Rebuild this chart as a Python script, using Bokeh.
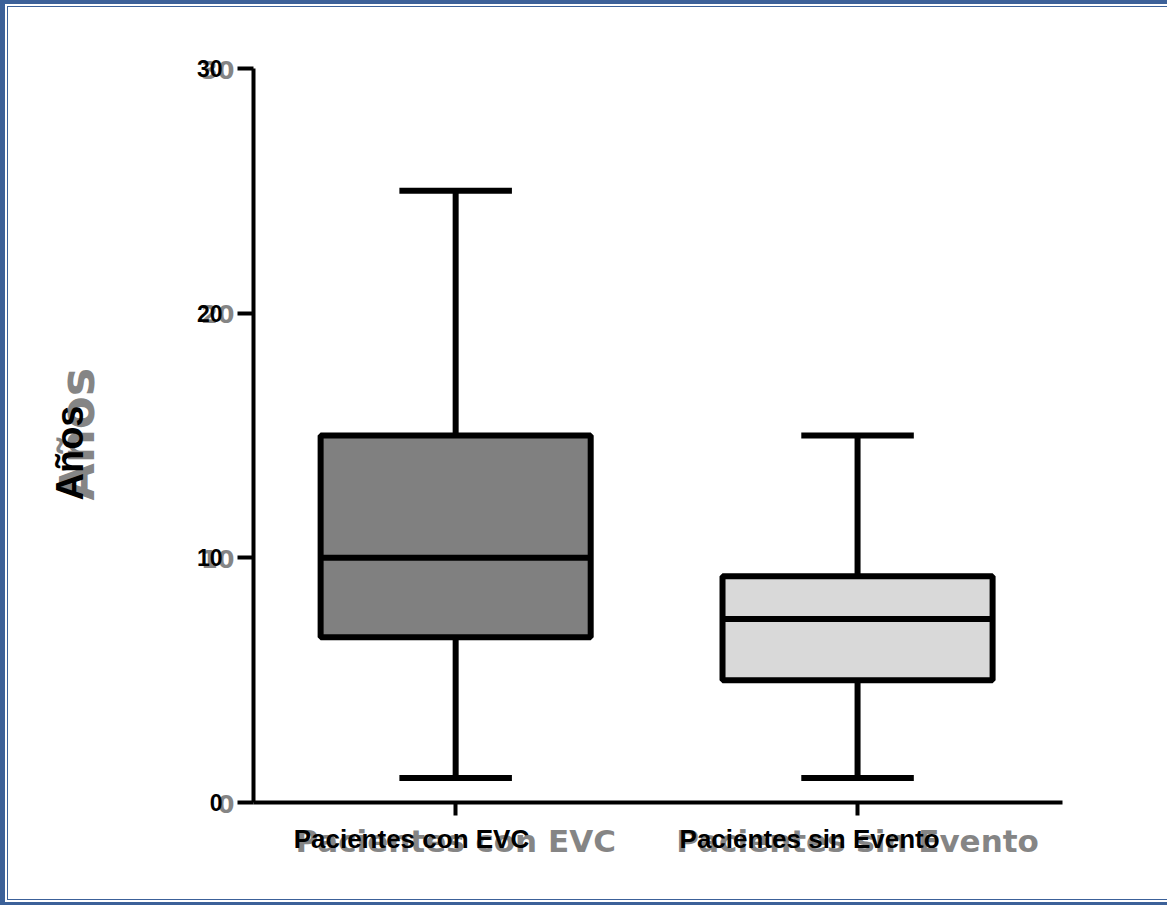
import math
from bokeh.plotting import figure
from bokeh.models import Range1d, FixedTicker, Label
from bokeh.embed import file_html
from bokeh.resources import INLINE

# ---- data ----
categories = ["Pacientes con EVC", "Pacientes sin Evento"]
whisker_low = [1, 1]
q1 = [6.75, 5]
median = [10, 7.5]
q3 = [15, 9.25]
whisker_high = [25, 15]
box_colors = ["#808080", "#D9D9D9"]
y_ticks = [0, 10, 20, 30]
y_label = "Años"

# ---- layout / style ----
x = [1, 2]
box_w = 0.672
cap_w = 0.28
label_dx = [-162, -178]
blue = "#3C6199"
grey_txt = "#858585"

W, H = 1167, 905
x_axis_span = (0.497, 2.51)      # data extent of the x axis line
y_axis_span = (0, 30)
px_x = 401.9                     # px per x unit
px_y = 24.467                    # px per y unit
left_px, top_px = 253, 68        # where the axes corner / top sit on the canvas
x_start = x_axis_span[0] - left_px / px_x
y_end = y_axis_span[1] + top_px / px_y

p = figure(width=W, height=H, output_backend="svg", toolbar_location=None,
           x_range=Range1d(x_start, x_start + W / px_x),
           y_range=Range1d(y_end - H / px_y, y_end),
           min_border=0)
p.background_fill_color = None
p.border_fill_color = None
p.outline_line_color = None
p.grid.visible = False
p.styles = {"box-shadow": (
    f"inset 5px 0 0 0 {blue}, inset 0 4px 0 0 {blue}, inset 0 -3px 0 0 {blue}, "
    f"inset 7px 0 0 0 #ffffff, inset 0 6px 0 0 #ffffff, inset 0 -5px 0 0 #ffffff, "
    f"inset 8px 0 0 0 {blue}, inset 0 7px 0 0 {blue}, inset 0 -6px 0 0 {blue}")}

# axes (fixed inside the full-canvas frame)
for ax in (p.xaxis[0], p.yaxis[0]):
    ax.axis_line_width = 4
    ax.axis_line_color = "black"
    ax.major_tick_line_width = 4
    ax.major_tick_line_color = "black"
    ax.major_tick_in = 0
    ax.minor_tick_line_color = None

p.yaxis.fixed_location = x_axis_span[0]
p.yaxis.bounds = y_axis_span
p.yaxis.ticker = FixedTicker(ticks=y_ticks)
p.yaxis.major_tick_out = 16
p.yaxis.major_label_standoff = 15
p.yaxis.major_label_text_font = "Liberation Sans"
p.yaxis.major_label_text_font_style = "bold"
p.yaxis.major_label_text_font_size = "23px"
p.yaxis.major_label_text_color = "black"

p.xaxis.fixed_location = y_axis_span[0]
p.xaxis.bounds = x_axis_span
p.xaxis.ticker = FixedTicker(ticks=x)
p.xaxis.major_tick_out = 13
p.xaxis.major_label_text_font_size = "0px"
p.xaxis.major_label_text_alpha = 0

# whiskers
p.segment(x0=x, y0=q3, x1=x, y1=whisker_high, line_color="black", line_width=6)
p.segment(x0=x, y0=q1, x1=x, y1=whisker_low, line_color="black", line_width=6)
p.segment(x0=[v - cap_w / 2 for v in x], y0=whisker_high,
          x1=[v + cap_w / 2 for v in x], y1=whisker_high, line_color="black", line_width=6)
p.segment(x0=[v - cap_w / 2 for v in x], y0=whisker_low,
          x1=[v + cap_w / 2 for v in x], y1=whisker_low, line_color="black", line_width=6)
# boxes
p.vbar(x=x, width=box_w, bottom=q1, top=q3, fill_color=box_colors,
       line_color="black", line_width=6)
p.segment(x0=[v - box_w / 2 for v in x], y0=median,
          x1=[v + box_w / 2 for v in x], y1=median, line_color="black", line_width=6)

x0 = x_axis_span[0]
# grey ghost tick labels
for t in y_ticks:
    p.add_layout(Label(x=x0, y=t, x_offset=-19, y_offset=-1, text=str(t), text_align="right",
                       text_baseline="middle", text_font="DejaVu Sans",
                       text_font_style="bold", text_font_size="24px",
                       text_color=grey_txt, level="underlay"))

# category labels (grey ghost + black)
for xi, cat in zip(x, categories):
    p.add_layout(Label(x=xi, y=0, y_offset=-38, text=cat, text_align="center",
                       text_baseline="alphabetic", text_font="DejaVu Sans",
                       text_font_style="bold", text_font_size="31px",
                       text_color=grey_txt, level="underlay"))
for xi, cat, dx in zip(x, categories, label_dx):
    p.add_layout(Label(x=xi, y=0, x_offset=dx, y_offset=-36, text=cat, text_align="left",
                       text_baseline="alphabetic", text_font="Liberation Sans",
                       text_font_style="bold", text_font_size="26px",
                       text_color="black"))

# y axis title (ghost + black)
p.add_layout(Label(x=x0, y=0, x_offset=-177, y_offset=302, text=y_label, angle=math.pi / 2,
                   text_align="left", text_baseline="alphabetic", text_font="DejaVu Sans",
                   text_font_style="bold", text_font_size="48px", text_color=grey_txt,
                   level="underlay"))
p.add_layout(Label(x=x0, y=0, x_offset=-184, y_offset=302, text=y_label, angle=math.pi / 2,
                   text_align="left", text_baseline="alphabetic", text_font="Liberation Sans",
                   text_font_style="bold", text_font_size="38px", text_color="black"))

open("out.html", "w").write(file_html(p, INLINE))
